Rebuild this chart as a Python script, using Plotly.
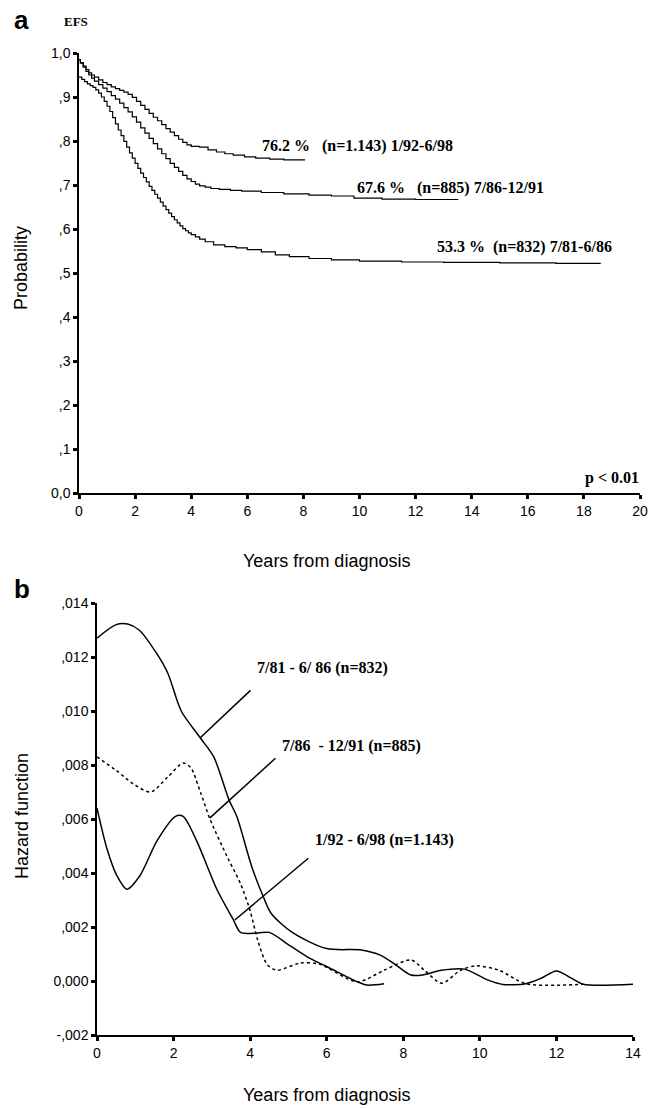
import plotly.graph_objects as go

# ---------------- Panel a: Kaplan-Meier EFS ----------------
km_t_9298 = [0, 0.05, 0.15, 0.25, 0.35, 0.45, 0.55, 0.7, 0.85, 1.0, 1.15, 1.3, 1.45, 1.6, 1.75,
             1.9, 2.05, 2.2, 2.35, 2.5, 2.65, 2.8, 2.95, 3.1, 3.25, 3.4, 3.55, 3.7, 3.85, 4.0, 4.3,
             4.6, 4.9, 5.2, 5.5, 5.9, 6.3, 6.8, 7.3, 8.06]
km_s_9298 = [0.985, 0.978, 0.970, 0.962, 0.955, 0.950, 0.945, 0.939, 0.933, 0.928, 0.923, 0.919,
             0.915, 0.911, 0.906, 0.899, 0.890, 0.881, 0.872, 0.863, 0.854, 0.846, 0.837, 0.828,
             0.820, 0.812, 0.804, 0.797, 0.791, 0.788, 0.786, 0.780, 0.775, 0.771, 0.768, 0.764,
             0.761, 0.759, 0.757, 0.757]

km_t_8691 = [0, 0.05, 0.15, 0.25, 0.35, 0.45, 0.55, 0.7, 0.85, 1.0, 1.15, 1.3, 1.45, 1.6, 1.75,
             1.9, 2.05, 2.2, 2.35, 2.5, 2.65, 2.8, 2.95, 3.1, 3.25, 3.4, 3.55, 3.7, 3.85, 4.0, 4.15,
             4.3, 4.5, 4.7, 5.0, 5.4, 5.8, 6.5, 7.3, 8.2, 9.0, 9.8, 10.8, 12.0, 13.5]
km_s_8691 = [0.985, 0.977, 0.968, 0.958, 0.950, 0.943, 0.936, 0.928, 0.920, 0.912, 0.903, 0.895,
             0.886, 0.876, 0.866, 0.855, 0.843, 0.830, 0.818, 0.806, 0.794, 0.782, 0.771, 0.760,
             0.749, 0.740, 0.731, 0.722, 0.714, 0.708, 0.702, 0.698, 0.695, 0.692, 0.690, 0.688,
             0.686, 0.683, 0.680, 0.677, 0.675, 0.670, 0.668, 0.667, 0.666]

km_t_8186 = [0, 0.1, 0.2, 0.3, 0.4, 0.5, 0.6, 0.7, 0.8, 0.9, 1.0, 1.1, 1.2, 1.3, 1.4, 1.5, 1.6,
             1.7, 1.8, 1.9, 2.0, 2.1, 2.2, 2.3, 2.4, 2.5, 2.6, 2.7, 2.8, 2.9, 3.0, 3.1, 3.2, 3.3,
             3.4, 3.5, 3.6, 3.7, 3.8, 3.9, 4.0, 4.15, 4.3, 4.5, 4.8, 5.2, 5.6, 6.0, 6.5, 7.0, 7.5,
             8.2, 9.0, 10.0, 11.5, 13.0, 15.0, 17.0, 18.6]
km_s_8186 = [0.945, 0.940, 0.935, 0.930, 0.926, 0.922, 0.916, 0.909, 0.900, 0.890, 0.879, 0.867,
             0.853, 0.839, 0.825, 0.812, 0.799, 0.786, 0.773, 0.761, 0.749, 0.738, 0.727, 0.717,
             0.707, 0.697, 0.688, 0.679, 0.670, 0.661, 0.652, 0.644, 0.636, 0.628, 0.621, 0.614,
             0.607, 0.601, 0.596, 0.591, 0.587, 0.582, 0.577, 0.571, 0.564, 0.560, 0.557, 0.553,
             0.548, 0.541, 0.537, 0.533, 0.530, 0.527, 0.525, 0.524, 0.523, 0.522, 0.522]

km_labels = ["76.2\u00a0%\u00a0\u00a0\u00a0(n=1.143) 1/92-6/98",
             "67.6\u00a0%\u00a0\u00a0\u00a0(n=885) 7/86-12/91",
             "53.3\u00a0%\u00a0\u00a0(n=832) 7/81-6/86"]

a_xticks = [0, 2, 4, 6, 8, 10, 12, 14, 16, 18, 20]
a_yticks = [0, 0.1, 0.2, 0.3, 0.4, 0.5, 0.6, 0.7, 0.8, 0.9, 1.0]
a_yticktext = ["0,0", ",1", ",2", ",3", ",4", ",5", ",6", ",7", ",8", ",9", "1,0"]

# ---------------- Panel b: hazard function ----------------
hz_t_8186 = [0, 0.5, 0.8, 1.1, 1.55, 1.85, 2.2, 2.7, 3.05, 3.45, 3.65, 4.05, 4.35, 4.55, 5.1, 6.0,
             6.9, 7.4, 7.8, 8.2, 8.5, 9.0, 9.6, 10.2, 10.6, 11.2, 11.6, 12.0, 12.4, 12.7, 14.0]
hz_h_8186 = [0.0127, 0.0132, 0.01322, 0.0130, 0.01215, 0.0114, 0.0100, 0.0090, 0.0083, 0.0067,
             0.0061, 0.0042, 0.0031, 0.0025, 0.0018, 0.0012, 0.00115, 0.00096, 0.0006, 0.00022,
             0.00022, 0.0004, 0.00044, 0.00004, -0.00013, -0.0001, 0.0001, 0.00037, 0.0001,
             -0.00012, -0.00012]

hz_t_8691 = [0, 0.5, 0.95, 1.4, 1.85, 2.25, 2.45, 2.7, 2.95, 3.4, 3.75, 4.0, 4.2, 4.45, 4.7, 5.3,
             5.8, 6.8, 7.5, 8.2, 8.55, 9.0, 9.5, 9.9, 10.5, 11.2, 12.7]
hz_h_8691 = [0.0083, 0.0078, 0.0073, 0.0070, 0.00756, 0.00807, 0.0079, 0.0070, 0.0060, 0.0046,
             0.0036, 0.0026, 0.0015, 0.0006, 0.0004, 0.00066, 0.00063, -0.00003, 0.0004, 0.00078,
             0.0004, -0.00008, 0.0004, 0.00056, 0.0004, -0.0001, -0.00012]

hz_t_9298 = [0, 0.26, 0.52, 0.78, 1.12, 1.57, 2.05, 2.25, 2.6, 3.13, 3.55, 3.75, 4.2, 4.5, 5.05,
             5.55, 6.05, 6.8, 7.05, 7.5]
hz_h_9298 = [0.0064, 0.0049, 0.0039, 0.0034, 0.0039, 0.0052, 0.0061, 0.0061, 0.0052, 0.0034,
             0.0023, 0.0018, 0.00178, 0.0018, 0.0013, 0.00085, 0.0005, -0.00003, -0.00015, -0.0001]

hz_labels = ["7/81 - 6/ 86 (n=832)", "7/86\u00a0\u00a0- 12/91 (n=885)", "1/92 - 6/98 (n=1.143)"]
# points on curves where the leader lines end
hz_lead_t = [2.69, 2.95, 3.6]
hz_lead_h = [0.0090, 0.00604, 0.00226]

b_xticks = [0, 2, 4, 6, 8, 10, 12, 14]
b_yticks = [-0.002, 0.0, 0.002, 0.004, 0.006, 0.008, 0.010, 0.012, 0.014]
b_yticktext = ["-,002", "0,000", ",002", ",004", ",006", ",008", ",010", ",012", ",014"]

W, H = 651, 1108
SANS = "Liberation Sans, Arial, sans-serif"
SERIF = "Liberation Serif, Times New Roman, serif"

fig = go.Figure()
for t, s in [(km_t_9298, km_s_9298), (km_t_8691, km_s_8691), (km_t_8186, km_s_8186)]:
    fig.add_trace(go.Scatter(x=t, y=s, mode="lines", line=dict(color="black", width=1.2, shape="hv"),
                             xaxis="x", yaxis="y", showlegend=False, hoverinfo="skip"))

fig.add_trace(go.Scatter(x=hz_t_8186, y=hz_h_8186, mode="lines",
                         line=dict(color="black", width=1.5, shape="spline", smoothing=0.8),
                         xaxis="x2", yaxis="y2", showlegend=False))
fig.add_trace(go.Scatter(x=hz_t_8691, y=hz_h_8691, mode="lines",
                         line=dict(color="black", width=1.5, shape="spline", smoothing=0.8, dash="3px,3px"),
                         xaxis="x2", yaxis="y2", showlegend=False))
fig.add_trace(go.Scatter(x=hz_t_9298, y=hz_h_9298, mode="lines",
                         line=dict(color="black", width=1.5, shape="spline", smoothing=0.8),
                         xaxis="x2", yaxis="y2", showlegend=False))

axis_common = dict(showline=True, linecolor="black", linewidth=1.5, ticks="outside", ticklen=4,
                   tickwidth=3, tickcolor="black", showgrid=False, zeroline=False,
                   tickfont=dict(family=SANS, size=14, color="black"), automargin=False)

fig.update_layout(
    width=W, height=H, margin=dict(l=0, r=0, t=0, b=0),
    paper_bgcolor="white", plot_bgcolor="white", template="none",
    xaxis=dict(domain=[79 / W, 640 / W], range=[0, 20], anchor="y", tickvals=a_xticks, **axis_common),
    yaxis=dict(domain=[1 - 493 / H, 1 - 53 / H], range=[0, 1], anchor="x", tickvals=a_yticks,
               ticktext=a_yticktext, **axis_common),
    xaxis2=dict(domain=[97 / W, 633 / W], range=[0, 14], anchor="y2", tickvals=b_xticks, **axis_common),
    yaxis2=dict(domain=[1 - 1035 / H, 1 - 603 / H], range=[-0.002, 0.014], anchor="x2",
                tickvals=b_yticks, ticktext=b_yticktext, **axis_common),
)

ann = []
def paper_text(text, px, py, size, family, xanchor="left", bold=False, angle=0):
    ann.append(dict(text=("<b>%s</b>" % text) if bold else text, x=px / W, y=1 - py / H,
                    xref="paper", yref="paper", xanchor=xanchor, yanchor="middle",
                    showarrow=False, textangle=angle,
                    font=dict(family=family, size=size, color="black")))

paper_text("a", 12, 20, 26, SANS, bold=True)
paper_text("EFS", 62, 21, 13, SERIF, bold=True)
paper_text("b", 12, 589, 26, SANS, bold=True)
paper_text("Probability", 21, 268, 18, SANS, xanchor="center", angle=-90)
paper_text("Hazard function", 22, 816, 18, SANS, xanchor="center", angle=-90)
paper_text("Years from diagnosis", 326, 561, 18, SANS, xanchor="center")
paper_text("Years from diagnosis", 326, 1095, 18, SANS, xanchor="center")

for lab, (px, py) in zip(km_labels, [(260, 146), (355, 188), (435, 247)]):
    paper_text(lab, px, py, 16, SERIF, bold=True)
paper_text("p < 0.01", 583, 478, 16, SERIF, bold=True)

for lab, (px, py) in zip(hz_labels, [(255, 668), (280, 746), (313, 840)]):
    paper_text(lab, px, py, 16, SERIF, bold=True)

for t, h, (ax, ay) in zip(hz_lead_t, hz_lead_h, [(52, -49), (67, -61), (75, -63)]):
    ann.append(dict(x=t, y=h, xref="x2", yref="y2", text="", showarrow=True, arrowhead=0,
                    arrowwidth=1.5, arrowcolor="black", ax=ax, ay=ay, standoff=0, startstandoff=0))

fig.update_layout(annotations=ann)

fig.write_html("out.html", config={"displayModeBar": False},
               post_script="document.body.style.margin='0';")
